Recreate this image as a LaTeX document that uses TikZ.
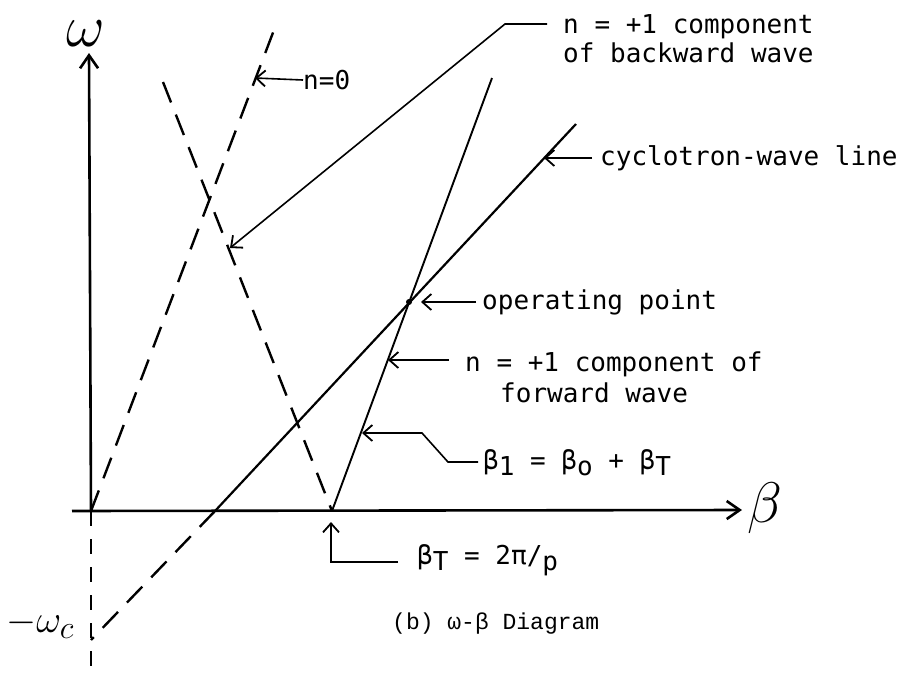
\documentclass[tikz,border=0pt]{standalone}
\usepackage{fontspec}
\setmonofont{DejaVu Sans Mono}
\newfontfamily\typefont{Liberation Mono}
\usetikzlibrary{arrows.meta}

\begin{document}
\begin{tikzpicture}[
    x=1pt, y=-1pt,
    font=\ttfamily\fontsize{26}{29}\selectfont,
    axis/.style={line width=2.6pt},
    solidline/.style={line width=2.2pt},
    dashline/.style={line width=2.4pt, dash pattern=on 22pt off 13pt},
    leader/.style={line width=1.6pt, -{Straight Barb[length=9pt,width=16pt,line width=1.8pt]}},
    lbl/.style={anchor=west, inner sep=0pt, align=left},
    hand/.style={inner sep=0pt, font=\fontsize{24.88}{26}\selectfont}
  ]
  \useasboundingbox (0,0) rectangle (914,673);

  % points of the diagram
  \coordinate (O) at (91,511);
  \coordinate (T) at (332,511);
  \coordinate (C) at (215,511);
  \coordinate (P) at (409,302);
  \coordinate (wtop) at (89,53);
  \coordinate (wbot) at (91,673);
  \coordinate (bleft) at (72,511);
  \coordinate (bright) at (742,510);
  \coordinate (nzerotop) at (274,30);
  \coordinate (backtop) at (163,82);
  \coordinate (fwdtop) at (492,78);
  \coordinate (cyctop) at (576,124);
  \coordinate (cycbot) at (91,640);

  % where the leaders point
  \coordinate (nzeropt) at (255,78);
  \coordinate (bwpt) at (230,248);
  \coordinate (bwknee) at (505,24);
  \coordinate (bwend) at (547,24);
  \coordinate (cycpt) at (544,158);
  \coordinate (oppt) at (421,302);
  \coordinate (fwpt) at (388,360);
  \coordinate (bonept) at (362,433);
  \coordinate (boneknee) at (422,433);
  \coordinate (boneknee2) at (448,462);
  \coordinate (btpt) at (331,522);
  \coordinate (btknee) at (331,562);

  % axes
  \draw[axis, -{Straight Barb[length=13pt,width=18pt]}] (O) -- (wtop);
  \draw[axis, -{Straight Barb[length=13pt,width=18pt]}] (bleft) -- (bright);
  \draw[axis, line width=2pt, dash pattern=on 15pt off 13pt] (O) -- (wbot);
  \node[hand, scale=2.4] (wlbl) at (86,34) {$\omega$};
  \node[hand, scale=2.3] (blbl) at (765,508) {$\beta$};
  \node[hand, scale=1.55, anchor=west] (wclbl) at (6,624) {$-\omega_c$};

  % branches
  \draw[dashline] (O) -- (nzerotop);
  \draw[dashline] (backtop) -- (T);
  \draw[solidline, line width=1.9pt] (T) -- (fwdtop);
  \draw[solidline] (C) -- (cyctop);
  \draw[dashline] (C) -- (cycbot);
  \fill (P) circle (3pt);

  % labels
  \node[lbl] (nzerolbl) at (303,80) {n=0};
  \draw[leader] (nzerolbl.west) -- (nzeropt);

  \node[lbl] (bwlbl) at (563,39) {n = +1 component\\of backward wave};
  \draw[leader] (bwend) -- (bwknee) -- (bwpt);

  \node[lbl] (cyclbl) at (600,158) {cyclotron-wave line};
  \draw[leader] ([xshift=-8pt]cyclbl.west) -- (cycpt);

  \node[lbl] (oplbl) at (482,302) {operating point};
  \draw[leader] ([xshift=-6pt]oplbl.west) -- (oppt);

  \node[lbl] (fwlbl) at (465,377) {n = +1 component of\\[2pt]\hspace*{35pt}forward wave};
  \draw[leader] ([xshift=-16pt]fwlbl.west |- fwpt) -- (fwpt);

  \node[lbl] (bonelbl) at (483,463)
    {β\raisebox{-6pt}{1} = β\raisebox{-6pt}{o} + β\raisebox{-6pt}{T}};
  \draw[leader] ([xshift=-5pt]bonelbl.west |- boneknee2) -- (boneknee2) -- (boneknee) -- (bonept);

  \node[lbl] (btlbl) at (417,560) {β\raisebox{-6pt}{T} = 2π/\raisebox{-6pt}{p}};
  \draw[leader] ([xshift=-19pt]btlbl.west |- btknee) -- (btknee) -- (btpt);

  \node[lbl, font=\typefont\fontsize{23}{26}\selectfont] (caption) at (392,624) {(b) ω-β Diagram};
\end{tikzpicture}
\end{document}
